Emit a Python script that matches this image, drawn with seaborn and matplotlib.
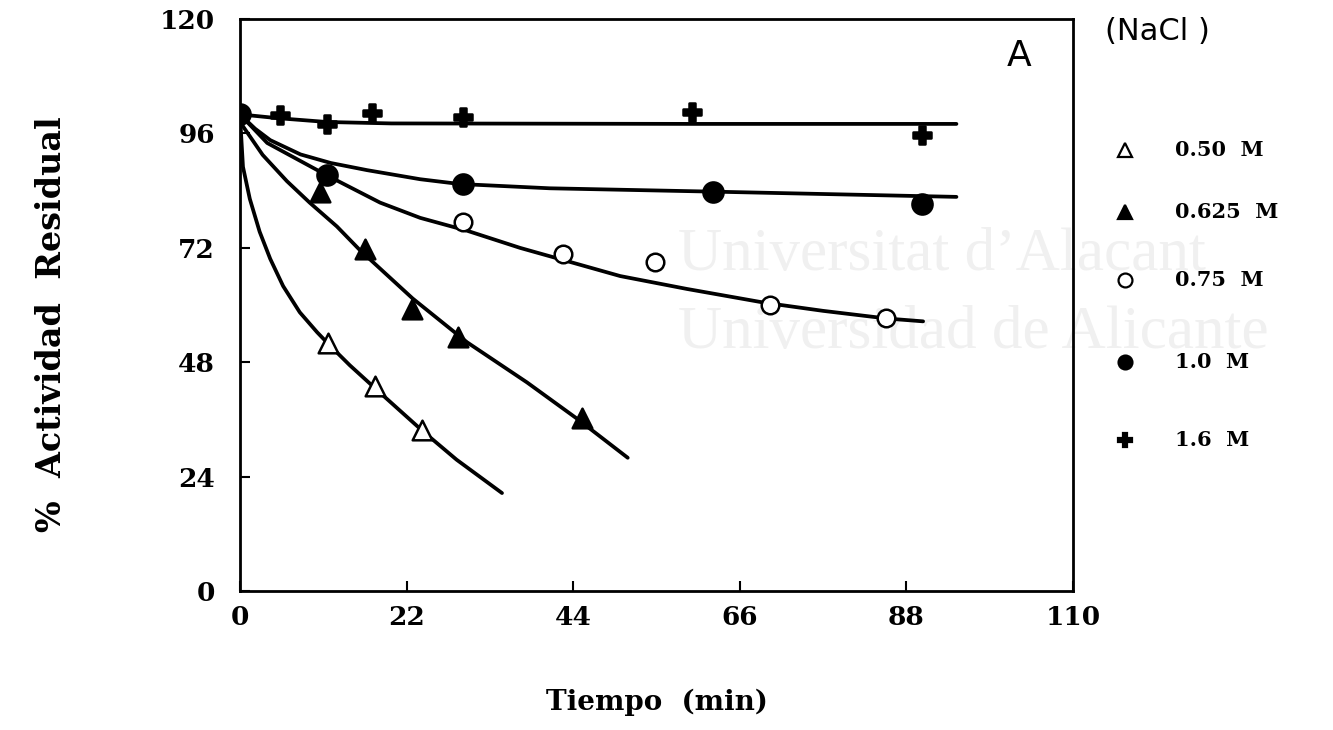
import matplotlib
matplotlib.use("Agg")
import matplotlib.pyplot as plt
import seaborn as sns

# Residual activity (%) versus incubation time (min) at several NaCl concentrations

# --- measured points ---
t_050 = [11.6, 17.8, 24.0]
a_050 = [52.0, 43.0, 33.9]

t_0625 = [10.6, 16.5, 22.7, 28.8, 45.1]
a_0625 = [83.8, 71.8, 59.2, 53.3, 36.4]

t_075 = [29.4, 42.6, 54.8, 70.0, 85.3]
a_075 = [77.5, 70.7, 69.1, 60.0, 57.3]

t_10 = [0.0, 11.5, 29.4, 62.4, 90.0]
a_10 = [100.0, 87.2, 85.3, 83.8, 81.3]

t_16 = [5.3, 11.5, 17.4, 29.4, 59.7, 90.0]
a_16 = [99.8, 97.9, 100.2, 99.4, 100.6, 95.6]

# --- fitted decay curves ---
ft_050 = [0, 0.4, 1.3, 2.6, 4.0, 5.7, 7.9, 10.2, 11.9, 14.5, 18.1, 24.2, 28.6, 34.6]
fa_050 = [100, 89.0, 82.3, 75.4, 69.7, 64.0, 58.5, 54.3, 51.5, 47.4, 42.2, 33.5, 27.6, 20.6]

ft_0625 = [0, 0.4, 3.0, 6.2, 9.2, 12.8, 15.8, 22.8, 30.0, 37.9, 44.5, 51.2]
fa_0625 = [100, 97.5, 91.5, 86.0, 81.5, 76.5, 71.6, 61.4, 52.2, 43.8, 36.2, 28.0]

ft_075 = [0, 3.6, 11.5, 18.5, 23.8, 30.0, 37.0, 42.6, 50.2, 59.0, 69.3, 77.0, 85.4, 90.2]
fa_075 = [100, 94.0, 87.2, 81.5, 78.3, 75.6, 72.0, 69.5, 66.1, 63.4, 60.5, 58.8, 57.2, 56.6]

ft_10 = [0, 2.0, 4.0, 8.0, 12.0, 16.8, 23.8, 29.0, 40.9, 62.4, 94.6]
fa_10 = [100, 97.0, 94.6, 91.6, 89.8, 88.3, 86.4, 85.4, 84.5, 83.8, 82.7]

ft_16 = [0, 5.0, 11.5, 20.0, 60.0, 94.6]
fa_16 = [100, 99.2, 98.4, 98.1, 98.0, 98.0]

x_ticks = [0, 22, 44, 66, 88, 110]
y_ticks = [0, 24, 48, 72, 96, 120]

legend_title = "(NaCl )"
legend_labels = ["0.50  M", "0.625  M", "0.75  M", "1.0  M", "1.6  M"]

sns.set_theme(style="white")
plt.rcParams["font.family"] = ["DejaVu Serif", "DejaVu Sans"]
plt.rcParams["text.color"] = "black"
plt.rcParams["axes.labelcolor"] = "black"
plt.rcParams["xtick.color"] = "black"
plt.rcParams["ytick.color"] = "black"

fig = plt.figure(figsize=(13.33, 7.30), dpi=100)
ax = fig.add_axes([0.180, 0.190, 0.625, 0.784])
ax.patch.set_alpha(0)

# faint institutional watermark behind the plot
wm_kw = dict(family="Liberation Serif", fontsize=44, color="#f0f0f0", zorder=-5, va="center", ha="left")
fig.text(678 / 1333, 1 - 255 / 730, "Universitat d\u2019Alacant", **wm_kw)
fig.text(678 / 1333, 1 - 333 / 730, "Universidad de Alicante", **wm_kw)

line_kw = dict(color="black", linewidth=2.7, sort=False, estimator=None, legend=False, ax=ax)
for ft, fa in [(ft_050, fa_050), (ft_0625, fa_0625), (ft_075, fa_075), (ft_10, fa_10), (ft_16, fa_16)]:
    sns.lineplot(x=ft, y=fa, **line_kw)

sc_kw = dict(ax=ax, legend=False, zorder=5, linewidth=1.8, edgecolor="black")
sns.scatterplot(x=t_050, y=a_050, marker="^", s=200, color="white", **sc_kw)
sns.scatterplot(x=t_0625, y=a_0625, marker="^", s=200, color="black", **sc_kw)
sns.scatterplot(x=t_075, y=a_075, marker="o", s=160, color="white", **sc_kw)
sns.scatterplot(x=t_10, y=a_10, marker="o", s=210, color="black", **sc_kw)
sns.scatterplot(x=t_16, y=a_16, marker="P", s=180, color="black", **sc_kw)

ax.set_xlim(0, 110)
ax.set_ylim(0, 120)
ax.set_xticks(x_ticks)
ax.set_yticks(y_ticks)
ax.set_xticklabels([str(v) for v in x_ticks], fontsize=19, fontweight="bold")
ax.set_yticklabels([str(v) for v in y_ticks], fontsize=19, fontweight="bold")
ax.tick_params(axis="both", direction="in", length=7, width=1.5, color="black",
               bottom=True, left=True, top=False, right=False)
ax.tick_params(axis="x", pad=10)
ax.tick_params(axis="y", pad=18)
for sp in ax.spines.values():
    sp.set_visible(True)
    sp.set_color("black")
    sp.set_linewidth(2.0)

ax.set_xlabel("Tiempo  (min)", fontsize=20, fontweight="bold", labelpad=42)
ax.set_ylabel("%  Actividad  Residual", fontsize=24, fontweight="bold")
ax.yaxis.set_label_coords(-0.206, 0.467)

ax.text(0.935, 0.935, "A", transform=ax.transAxes, family="DejaVu Sans", fontsize=26,
        ha="center", va="center")

# legend panel to the right of the axes
fig.text(1157 / 1333, 1 - 32 / 730, legend_title, family="DejaVu Sans", fontsize=22,
         ha="center", va="center")
row_y = [150, 212, 280, 362, 440]
row_marker = [("^", "white"), ("^", "black"), ("o", "white"), ("o", "black"), ("P", "black")]
for yy, (mk, fc), lab in zip(row_y, row_marker, legend_labels):
    fy = 1 - yy / 730
    fig.lines.append(plt.Line2D([1125 / 1333], [fy], transform=fig.transFigure, marker=mk,
                                markersize=10, markerfacecolor=fc, markeredgecolor="black",
                                markeredgewidth=1.6, linestyle="none"))
    fig.text(1175 / 1333, fy, lab, fontsize=15, fontweight="bold", ha="left", va="center")

fig.savefig("out.png", dpi=100, facecolor="white")
